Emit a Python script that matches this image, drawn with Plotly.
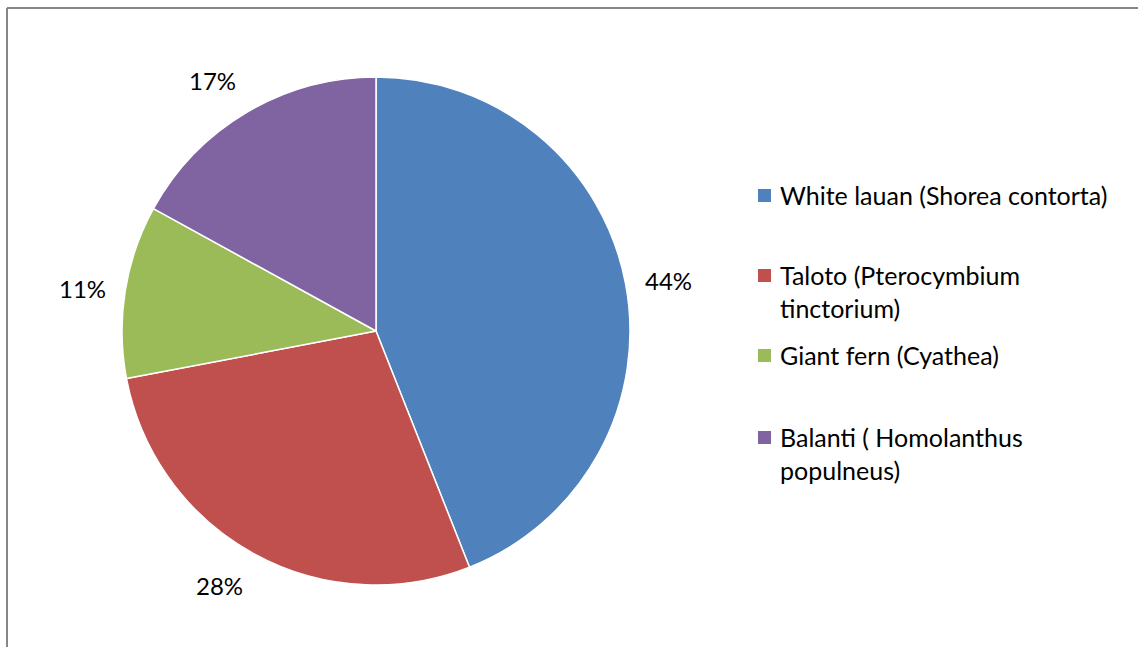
import math
import plotly.graph_objects as go

# Species share of the sampled stand
species = [
    "White lauan (Shorea contorta)",
    "Taloto (Pterocymbium<br>tinctorium)",
    "Giant fern (Cyathea)",
    "Balanti ( Homolanthus<br>populneus)",
]
shares = [44, 28, 11, 17]
colors = ["#4F81BD", "#C0504D", "#9BBB59", "#8064A2"]

W, H = 1138, 647
FONT = "Lato"

# pie geometry in pixels
cx, cy, r = 376, 331, 254


def px(x):
    return x / W


def py(y):
    return 1 - y / H


fig = go.Figure(
    go.Pie(
        labels=species,
        values=shares,
        marker=dict(colors=colors, line=dict(color="white", width=1.5)),
        sort=False,
        direction="clockwise",
        rotation=0,
        textinfo="none",
        hoverinfo="label+percent",
        showlegend=False,
        domain=dict(x=[px(cx - r), px(cx + r)], y=[py(cy + r), py(cy - r)]),
    )
)

annotations = []
shapes = []

# percentage labels placed just outside each slice
total = sum(shares)
acc = 0
for v in shares:
    mid = (acc + v / 2) / total * 2 * math.pi
    acc += v
    s, c = math.sin(mid), math.cos(mid)
    ax = cx + 1.07 * r * s
    ay = cy - 1.07 * r * c
    annotations.append(dict(
        x=px(ax), y=py(ay), xref="paper", yref="paper",
        text=f"{round(100 * v / total)}%", showarrow=False,
        xanchor="left" if s > 0 else "right",
        yanchor="bottom" if c > 0.5 else ("top" if c < -0.5 else "middle"),
        font=dict(family=FONT, size=24, color="#000000"),
    ))

# legend entries
legend_tops = [178, 258, 338, 420]
for name, col, top in zip(species, colors, legend_tops):
    shapes.append(dict(
        type="rect", xref="paper", yref="paper",
        x0=px(758), x1=px(771), y0=py(top + 11), y1=py(top + 24),
        fillcolor=col, line=dict(width=0),
    ))
    annotations.append(dict(
        x=px(778), y=py(top), xref="paper", yref="paper",
        text=name, showarrow=False, xanchor="left", yanchor="top", align="left",
        font=dict(family=FONT, size=25, color="#000000"),
    ))

# chart frame (top and left edges)
shapes.append(dict(type="line", xref="paper", yref="paper",
                   x0=px(7), x1=1, y0=py(8), y1=py(8),
                   line=dict(color="#868686", width=2)))
shapes.append(dict(type="line", xref="paper", yref="paper",
                   x0=px(7), x1=px(7), y0=py(8), y1=0,
                   line=dict(color="#868686", width=2)))

fig.update_layout(
    width=W, height=H,
    margin=dict(l=0, r=0, t=0, b=0),
    paper_bgcolor="white", plot_bgcolor="white",
    annotations=annotations, shapes=shapes,
)

fig.write_html("out.html")
